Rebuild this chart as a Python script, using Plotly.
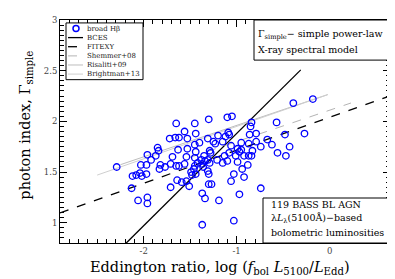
import plotly.graph_objects as go

# ---- data: log Eddington ratio vs photon index (broad Hbeta sample) ----
log_edd = [-1.65, -1.45, -1.56, -1.44, -1.72, -1.66, -1.62, -1.53, -1.45, -1.40,
           -1.63, -1.53, -1.44, -1.85, -1.84, -1.96, -1.87, -1.92, -1.69, -1.54,
           -1.45, -2.29, -2.03, -1.97, -1.82, -1.71, -1.65, -1.62, -1.56, -1.83,
           -1.77, -1.45, -2.12, -2.08, -2.04, -2.02, -1.97, -2.13, -2.06, -1.96,
           -1.96, -1.71, -1.64, -1.59, -1.54, -1.51, -1.49, -1.46, -1.44, -1.42,
           -1.38, -1.37, -1.34, -1.36, -1.37, -1.34, -1.37, -1.30, -1.31, -1.10,
           -1.05, -0.84, -0.85, -0.57, -0.86, -0.79, -1.09, -1.08, -1.12, -1.20,
           -1.25, -1.23, -1.15, -1.06, -0.95, -0.87, -0.79, -0.67, -0.62, -0.48,
           -0.27, -0.56, -0.43, -0.47, -0.74, -0.83, -0.95, -0.99, -0.97, -1.08,
           -1.13, -1.15, -1.29, -1.28, -1.35, -1.31, -1.21, -1.29, -1.10, -1.01,
           -0.92, -0.87, -0.84, -0.99, -0.88, -0.94, -0.39, -0.18, -1.48, -1.31,
           -1.30, -1.30, -1.27, -1.03, -0.92, -1.06, -0.74, -1.19, -0.97, -1.03]
gamma = [1.98, 1.98, 1.90, 1.88, 1.83, 1.84, 1.84, 1.83, 1.77, 1.79,
         1.72, 1.73, 1.70, 1.74, 1.71, 1.67, 1.66, 1.62, 1.65, 1.65,
         1.64, 1.55, 1.57, 1.57, 1.57, 1.58, 1.56, 1.56, 1.58, 1.53,
         1.55, 1.56, 1.46, 1.47, 1.49, 1.46, 1.48, 1.34, 1.22, 1.25,
         1.19, 1.35, 1.42, 1.40, 1.41, 1.36, 1.50, 1.53, 1.48, 1.59,
         1.62, 1.58, 1.61, 1.55, 1.29, 1.24, 0.98, 2.02, 1.83, 2.04,
         2.05, 1.99, 1.95, 1.99, 1.87, 1.88, 1.89, 1.87, 1.85, 1.86,
         1.80, 1.78, 1.80, 1.76, 1.79, 1.78, 1.80, 1.82, 1.77, 1.87,
         1.88, 1.69, 1.75, 1.66, 1.75, 1.71, 1.72, 1.73, 1.70, 1.69,
         1.66, 1.59, 1.71, 1.69, 1.66, 1.62, 1.62, 1.59, 1.61, 1.66,
         1.66, 1.66, 1.66, 1.60, 1.57, 1.53, 2.18, 2.22, 1.47, 1.51,
         1.48, 1.38, 1.38, 1.48, 1.45, 1.41, 1.34, 1.22, 1.28, 1.02]

# ---- fitted / literature relations: Gamma = slope * x + intercept ----
fit_names = ["BCES", "FITEXY", "Shemmer+08", "Risaliti+09", "Brightman+13"]
fit_slopes = [0.91, 0.325, 0.31, 0.31, 0.32]
fit_intercepts = [2.79, 2.04, 2.11, 2.27, 2.27]
fit_xmin = [-2.19, -2.90, -1.50, -2.25, -2.50]
fit_xmax = [-0.31, 0.65, 0.23, -0.02, -0.02]

x_ticks = [-2, -1, 0]
x_ticklabels = ["-2", "-1", "0"]
y_ticks = [1, 1.5, 2, 2.5, 3]
y_ticklabels = ["1", "1.5", "2", "2.5", "3"]

FONT = "DejaVu Serif"
W, H = 395, 279
L, R, T, B = 52, 13, 7, 44
PW, PH = W - L - R, H - T - B

fit_styles = [
    dict(color="black", width=1.3, dash="solid"),
    dict(color="black", width=1.3, dash="dash"),
    dict(color="#b4b4b4", width=1.0, dash="dash"),
    dict(color="#bdbdbd", width=1.0, dash="solid"),
    dict(color="#cfcfcf", width=1.0, dash="solid"),
]

fig = go.Figure()

for name, s, b, x0, x1, st in zip(fit_names, fit_slopes, fit_intercepts,
                                   fit_xmin, fit_xmax, fit_styles):
    fig.add_trace(go.Scatter(x=[x0, x1], y=[s * x0 + b, s * x1 + b], mode="lines",
                             line=st, name=name, showlegend=False))

fig.add_trace(go.Scatter(x=log_edd, y=gamma, mode="markers", name="broad H\u03b2",
                         marker=dict(symbol="circle-open", size=6.5, color="#0000ff",
                                     line=dict(width=1.3, color="#0000ff")),
                         showlegend=False))


def px(x):
    return (x - L) / PW


def py(y):
    return (H - B - y) / PH


shapes = []
annotations = []

# manual legend
shapes.append(dict(type="rect", xref="paper", yref="paper", x0=px(58), x1=px(135),
                   y0=py(68), y1=py(10), line=dict(color="black", width=1),
                   fillcolor="white", layer="above"))
leg_labels = ["broad H\u03b2"] + fit_names
rows = [15.7, 25, 34.3, 43.7, 53, 62.3]
for i, (lab, yy) in enumerate(zip(leg_labels, rows)):
    if i == 0:
        r = 3
        shapes.append(dict(type="circle", xref="paper", yref="paper",
                           x0=px(68 - r), x1=px(68 + r), y0=py(yy + r), y1=py(yy - r),
                           line=dict(color="#0000ff", width=1.5), layer="above"))
    else:
        st = fit_styles[i - 1]
        shapes.append(dict(type="line", xref="paper", yref="paper",
                           x0=px(60), x1=px(75), y0=py(yy), y1=py(yy),
                           line=dict(color=st["color"], width=st["width"], dash=st["dash"]),
                           layer="above"))
    annotations.append(dict(xref="paper", yref="paper", x=px(76.5), y=py(yy),
                            text=lab, showarrow=False, xanchor="left", yanchor="middle",
                            font=dict(family=FONT, size=7, color="#222222")))

# top-right box
BOXF = 9.5
shapes.append(dict(type="rect", xref="paper", yref="paper", x0=px(246), x1=1,
                   y0=py(48), y1=1, line=dict(color="black", width=1),
                   fillcolor="white", layer="above"))
annotations.append(dict(xref="paper", yref="paper", x=px(248), y=py(21.5),
                        text="\u0393<sub>simple</sub>\u2212 simple power-law",
                        showarrow=False, xanchor="left", yanchor="middle",
                        font=dict(family=FONT, size=BOXF, color="black")))
annotations.append(dict(xref="paper", yref="paper", x=px(248), y=py(37),
                        text="X-ray spectral model",
                        showarrow=False, xanchor="left", yanchor="middle",
                        font=dict(family=FONT, size=BOXF, color="black")))

# bottom-right box
shapes.append(dict(type="rect", xref="paper", yref="paper", x0=px(255), x1=1,
                   y0=0, y1=py(189), line=dict(color="black", width=1),
                   fillcolor="white", layer="above"))
for txt, yy in [("119 BASS BL AGN", 196),
                ("\u03bb<i>L</i><sub>\u03bb</sub>(5100\u00c5)\u2212based", 210),
                ("bolometric luminosities", 224)]:
    annotations.append(dict(xref="paper", yref="paper", x=px(261), y=py(yy),
                            text=txt, showarrow=False, xanchor="left", yanchor="middle",
                            font=dict(family=FONT, size=BOXF, color="black")))

# axis titles
annotations.append(dict(xref="paper", yref="paper", x=px(80), y=py(261),
                        text="Eddington ratio, log (<i>f</i><sub>bol</sub> <i>L</i><sub>5100</sub>/<i>L</i><sub>Edd</sub>)",
                        showarrow=False, xanchor="left", yanchor="middle",
                        font=dict(family=FONT, size=14.5, color="black")))
annotations.append(dict(xref="paper", yref="paper", x=px(18), y=py(115),
                        text="photon index, \u0393<sub>simple</sub>", textangle=-90,
                        showarrow=False, xanchor="center", yanchor="middle",
                        font=dict(family=FONT, size=14.5, color="black")))

axis_common = dict(showline=True, linecolor="black", linewidth=1, mirror="ticks",
                   ticks="inside", ticklen=7, tickwidth=1, tickcolor="black",
                   showgrid=False, zeroline=False,
                   tickfont=dict(family=FONT, size=8.5, color="#444444"))

fig.update_layout(
    width=W, height=H,
    margin=dict(l=L, r=R, t=T, b=B),
    paper_bgcolor="white", plot_bgcolor="white",
    showlegend=False,
    shapes=shapes, annotations=annotations,
    xaxis=dict(range=[-2.9, 0.65], tickvals=x_ticks, ticktext=x_ticklabels,
               minor=dict(ticks="inside", dtick=0.1, ticklen=4, tickcolor="black", showgrid=False),
               **axis_common),
    yaxis=dict(range=[0.8, 3], tickvals=y_ticks, ticktext=y_ticklabels,
               minor=dict(ticks="inside", dtick=0.05, ticklen=4, tickcolor="black", showgrid=False),
               **axis_common),
)

fig.write_html("out.html")
